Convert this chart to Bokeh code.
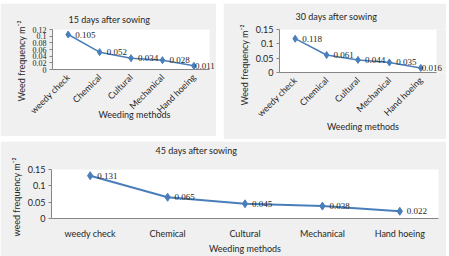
import math
from bokeh.plotting import figure
from bokeh.models import (BoxAnnotation, ColumnDataSource, FixedTicker, LabelSet,
                          LinearAxis, Range1d, Spacer, Title)
from bokeh.layouts import column, row
from bokeh.embed import file_html
from bokeh.resources import INLINE

# Weed frequency (m^-2) by weeding method at three sampling dates
methods = ["weedy check", "Chemical", "Cultural", "Mechanical", "Hand hoeing"]
das15 = [0.105, 0.052, 0.034, 0.028, 0.011]
das30 = [0.118, 0.061, 0.044, 0.035, 0.016]
das45 = [0.131, 0.065, 0.045, 0.038, 0.022]
ticks15 = [0, 0.02, 0.04, 0.06, 0.08, 0.1, 0.12]
ticks30 = [0, 0.05, 0.1, 0.15]
ticks45 = [0, 0.05, 0.1, 0.15]

PANEL_BG = "#f0f0f0"
LINE = "#4a7ebb"
TEXT = "#262626"
AXIS = "#868686"
SANS = "Lato"
SERIF = "Liberation Serif"


def panel(title, vals, ticks, width, height, borders, overhang, title_offset,
          title_standoff, title_gap, ytitle, ytitle_offset, ytitle_standoff, rotate,
          xlabel_standoff, xtitle_standoff, tick_font, tick_size, label_font,
          last_label_offset, line_w, msize):
    left, right, bottom = borders
    pos = list(range(len(methods)))
    lo, hi = -0.5, len(methods) - 0.5
    # the frame runs a little past the last category so the end labels stay visible;
    # only the category span is painted white
    p = figure(width=width, height=height, x_range=Range1d(lo, hi + overhang),
               y_range=Range1d(0, ticks[-1]), output_backend="svg", toolbar_location=None,
               min_border_left=left, min_border_right=right,
               min_border_top=0, min_border_bottom=bottom,
               background_fill_color=PANEL_BG, border_fill_color=PANEL_BG,
               outline_line_color=None)
    p.add_layout(BoxAnnotation(left=lo, right=hi, bottom=0, top=ticks[-1],
                               fill_color="white", fill_alpha=1, line_color=None,
                               level="underlay"))
    p.title.text = title
    p.title.align = "left"
    p.title.offset = title_offset
    p.title.standoff = title_standoff
    p.title.text_font = SANS
    p.title.text_font_size = "9px"
    p.title.text_font_style = "normal"
    p.title.text_color = TEXT

    if title_gap > 0:
        # blank axis above the frame: keeps a gap between the title and the plot area
        gap = LinearAxis(ticker=FixedTicker(ticks=[lo]), axis_line_color=None,
                         major_tick_line_color=PANEL_BG, minor_tick_line_color=None,
                         major_tick_in=0, major_tick_out=title_gap,
                         major_label_standoff=0, major_label_text_font_size="0px",
                         major_label_overrides={lo: ""}, axis_label=None)
        p.add_layout(gap, "above")

    p.xgrid.grid_line_color = None
    p.ygrid.grid_line_color = None

    ya = p.yaxis[0]
    ya.ticker = FixedTicker(ticks=ticks)
    ya.major_label_overrides = {t: f"{t:g}" for t in ticks}
    ya.axis_line_color = AXIS
    ya.major_tick_line_color = AXIS
    ya.major_tick_out = 3
    ya.major_tick_in = 0
    ya.minor_tick_line_color = None
    ya.major_label_standoff = 3
    ya.major_label_text_font = tick_font
    ya.major_label_text_font_size = tick_size
    ya.major_label_text_color = TEXT

    # y title as a side title, so it can sit lower than the frame's middle
    p.add_layout(Title(text=ytitle, align="left", offset=ytitle_offset,
                       standoff=ytitle_standoff, text_font=SANS,
                       text_font_size="9px", text_font_style="normal",
                       text_color=TEXT), "left")

    xa = p.below[0]
    xa.ticker = FixedTicker(ticks=pos)
    xa.major_label_overrides = {i: m for i, m in zip(pos, methods)}
    xa.bounds = (lo, hi)
    xa.axis_line_color = AXIS
    xa.major_tick_line_color = None
    xa.minor_tick_line_color = None
    xa.major_tick_out = 2
    xa.major_label_standoff = xlabel_standoff
    xa.major_label_text_font = SANS
    xa.major_label_text_font_size = "9px"
    xa.major_label_text_color = TEXT
    if rotate:
        xa.major_label_orientation = math.pi / 4
    xa.axis_label = "Weeding methods"
    xa.axis_label_text_font = SANS
    xa.axis_label_text_font_size = "9px"
    xa.axis_label_text_font_style = "normal"
    xa.axis_label_text_color = TEXT
    xa.axis_label_standoff = xtitle_standoff

    src = ColumnDataSource(dict(pos=pos, freq=vals,
                                label=[f"{v:.3f}" for v in vals],
                                dx=[7] * (len(vals) - 1) + [last_label_offset]))
    p.line("pos", "freq", source=src, line_color=LINE, line_width=line_w)
    p.scatter("pos", "freq", source=src, marker="diamond", size=msize, color=LINE)
    p.add_layout(LabelSet(x="pos", y="freq", text="label", source=src,
                          x_offset="dx", text_baseline="middle", text_align="left",
                          text_font=label_font, text_font_size="9px",
                          text_color=TEXT))
    return p


p1 = panel("15 days after sowing", das15, ticks15, 216, 133, (52, 0, 65), 0.22,
           16, 10, 0, "Weed frequency m\u207b\u00b2", -32, 5, True, 4, -14,
           SERIF, "8px", SERIF, 1, 1.5, 7)
p2 = panel("30 days after sowing", das30, ticks30, 223, 136, (56, 0, 67), 0.32,
           16, 10, 3, "Weed frequency m\u207b\u00b2", -33, 5, True, 4, -5,
           SANS, "9px", SERIF, 1, 1.5, 7)
p3 = panel("45 days after sowing", das45, ticks45, 446, 115, (51, 8, 34), 0.0,
           104, 2, 13, "weed frequency m\u207b\u00b2", -18, 6, False, 7, 1,
           SANS, "9px", SANS, 7, 2, 8)

layout = column(Spacer(height=3), row(p1, Spacer(width=7), p2), Spacer(height=2), p3)

open("out.html", "w").write(file_html(layout, INLINE))
